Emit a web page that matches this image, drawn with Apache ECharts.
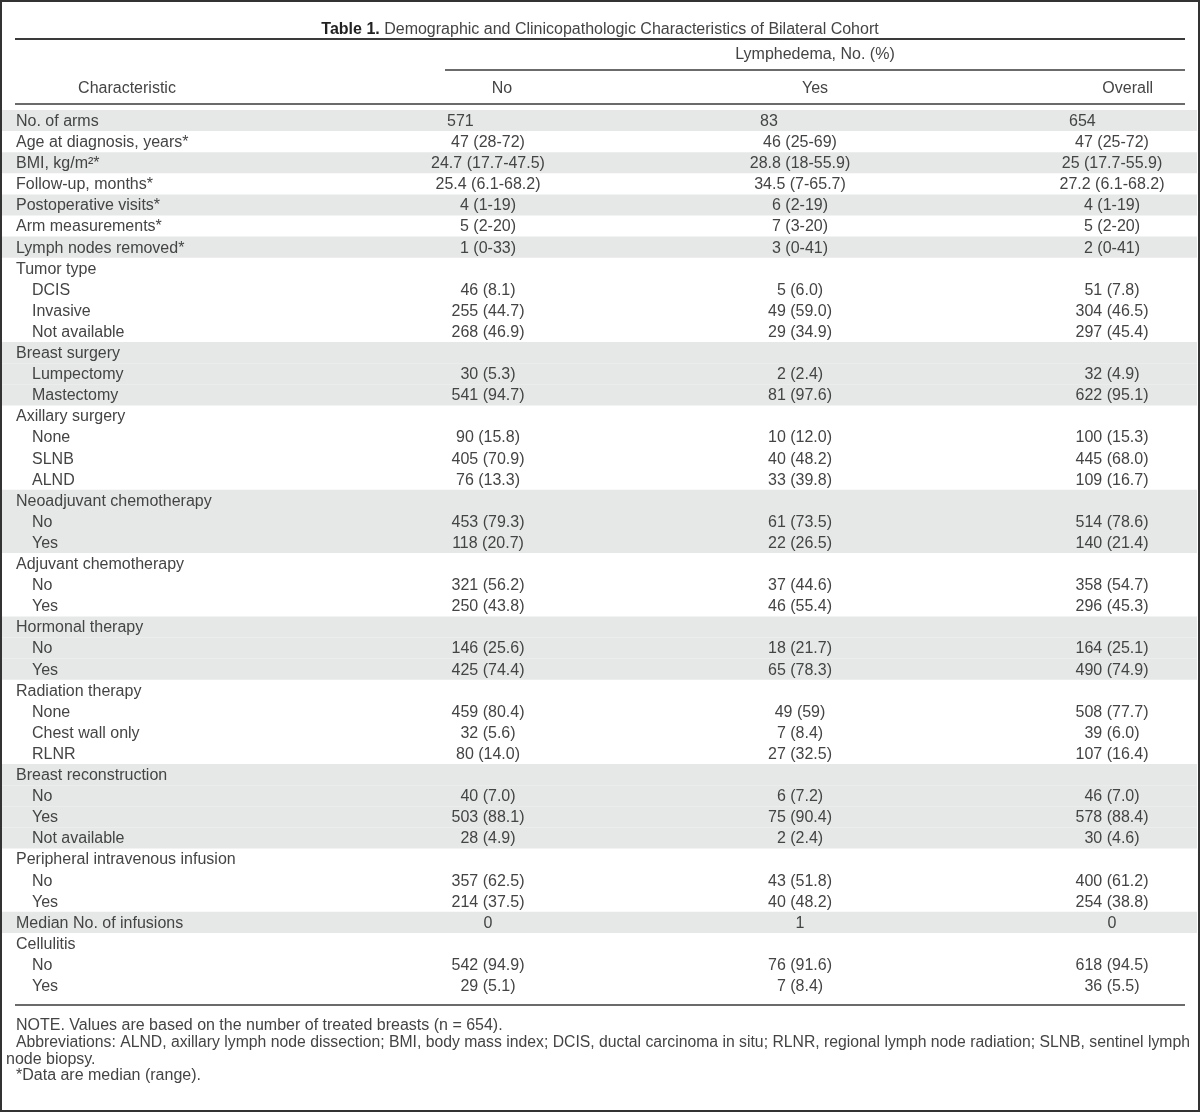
<!DOCTYPE html>
<html><head><meta charset="utf-8">
<script src="https://cdn.jsdelivr.net/npm/echarts@6/dist/echarts.min.js"></script>
<style>html,body{margin:0;padding:0;background:#fff}#c{width:1200px;height:1112px}</style>
</head><body><div id="c"></div>
<script>
// ---------------- DATA ----------------
const titleBold = 'Table 1.';
const titleText = 'Demographic and Clinicopathologic Characteristics of Bilateral Cohort';
const spanHeader = 'Lymphedema, No. (%)';
const columnHeaders = ['Characteristic', 'No', 'Yes', 'Overall'];

const characteristics = [
  'No. of arms', 'Age at diagnosis, years*', 'BMI, kg/m\u00B2*', 'Follow-up, months*',
  'Postoperative visits*', 'Arm measurements*', 'Lymph nodes removed*',
  'Tumor type', 'DCIS', 'Invasive', 'Not available',
  'Breast surgery', 'Lumpectomy', 'Mastectomy',
  'Axillary surgery', 'None', 'SLNB', 'ALND',
  'Neoadjuvant chemotherapy', 'No', 'Yes',
  'Adjuvant chemotherapy', 'No', 'Yes',
  'Hormonal therapy', 'No', 'Yes',
  'Radiation therapy', 'None', 'Chest wall only', 'RLNR',
  'Breast reconstruction', 'No', 'Yes', 'Not available',
  'Peripheral intravenous infusion', 'No', 'Yes',
  'Median No. of infusions',
  'Cellulitis', 'No', 'Yes'
];
// hierarchy level of each row (0 = characteristic, 1 = sub-category)
const levels = [
  0, 0, 0, 0, 0, 0, 0,
  0, 1, 1, 1,
  0, 1, 1,
  0, 1, 1, 1,
  0, 1, 1,
  0, 1, 1,
  0, 1, 1,
  0, 1, 1, 1,
  0, 1, 1, 1,
  0, 1, 1,
  0,
  0, 1, 1
];
const noValues = [
  '571', '47 (28-72)', '24.7 (17.7-47.5)', '25.4 (6.1-68.2)', '4 (1-19)', '5 (2-20)', '1 (0-33)',
  '', '46 (8.1)', '255 (44.7)', '268 (46.9)',
  '', '30 (5.3)', '541 (94.7)',
  '', '90 (15.8)', '405 (70.9)', '76 (13.3)',
  '', '453 (79.3)', '118 (20.7)',
  '', '321 (56.2)', '250 (43.8)',
  '', '146 (25.6)', '425 (74.4)',
  '', '459 (80.4)', '32 (5.6)', '80 (14.0)',
  '', '40 (7.0)', '503 (88.1)', '28 (4.9)',
  '', '357 (62.5)', '214 (37.5)',
  '0',
  '', '542 (94.9)', '29 (5.1)'
];
const yesValues = [
  '83', '46 (25-69)', '28.8 (18-55.9)', '34.5 (7-65.7)', '6 (2-19)', '7 (3-20)', '3 (0-41)',
  '', '5 (6.0)', '49 (59.0)', '29 (34.9)',
  '', '2 (2.4)', '81 (97.6)',
  '', '10 (12.0)', '40 (48.2)', '33 (39.8)',
  '', '61 (73.5)', '22 (26.5)',
  '', '37 (44.6)', '46 (55.4)',
  '', '18 (21.7)', '65 (78.3)',
  '', '49 (59)', '7 (8.4)', '27 (32.5)',
  '', '6 (7.2)', '75 (90.4)', '2 (2.4)',
  '', '43 (51.8)', '40 (48.2)',
  '1',
  '', '76 (91.6)', '7 (8.4)'
];
const overallValues = [
  '654', '47 (25-72)', '25 (17.7-55.9)', '27.2 (6.1-68.2)', '4 (1-19)', '5 (2-20)', '2 (0-41)',
  '', '51 (7.8)', '304 (46.5)', '297 (45.4)',
  '', '32 (4.9)', '622 (95.1)',
  '', '100 (15.3)', '445 (68.0)', '109 (16.7)',
  '', '514 (78.6)', '140 (21.4)',
  '', '358 (54.7)', '296 (45.3)',
  '', '164 (25.1)', '490 (74.9)',
  '', '508 (77.7)', '39 (6.0)', '107 (16.4)',
  '', '46 (7.0)', '578 (88.4)', '30 (4.6)',
  '', '400 (61.2)', '254 (38.8)',
  '0',
  '', '618 (94.5)', '36 (5.5)'
];
const notes = [
  'NOTE. Values are based on the number of treated breasts (n = 654).',
  'Abbreviations: ALND, axillary lymph node dissection; BMI, body mass index; DCIS, ductal carcinoma in situ; RLNR, regional lymph node radiation; SLNB, sentinel lymph',
  'node biopsy.',
  '*Data are median (range).'
];

// ---------------- LAYOUT / STYLE ----------------
const FONT = '"Liberation Sans", Arial, Helvetica, sans-serif';
const TXT = '#444444';
const RULE = '#3a3a3a';
const SHADE = '#e6e7e7';
const W = 1200, H = 1112;
const ROW_TOP = 110, ROW_H = 21.1;
const FS = 16;
const nRows = characteristics.length;

// alternate shading by characteristic group
let gi = -1;
const groupOf = levels.map(l => { if (l === 0) gi++; return gi; });
const shadedRows = [];
groupOf.forEach((g, i) => { if (g % 2 === 0) shadedRows.push(i); });

const valueCols = [noValues, yesValues, overallValues];
const cells = [];
characteristics.forEach((t, i) => cells.push({ col: 0, row: i, text: t }));
valueCols.forEach((arr, c) => arr.forEach((t, i) => { if (t !== '') cells.push({ col: c + 1, row: i, text: t }); }));

const colCenter = [0, 488, 800, 1112];
const firstRowLeft = [0, 447, 760, 1069];
const indent = [16, 32];

// notes: 16px; the long justified line is squeezed to the table width
const NOTE_FS = 16;
const cv = document.createElement('canvas').getContext('2d');
cv.font = NOTE_FS + 'px ' + FONT;
const noteWidths = notes.map(t => cv.measureText(t).width);

const chart = echarts.init(document.getElementById('c'), null, { renderer: 'canvas', width: W, height: H });

const graphics = [
  { type: 'rect', shape: { x: 1, y: 1, width: W - 2, height: H - 2 }, style: { fill: null, stroke: '#333', lineWidth: 2 }, z: 100 },
  { type: 'text', x: 600, y: 30, style: {
      text: '{b|' + titleBold + '} ' + titleText, align: 'center', verticalAlign: 'middle',
      fontFamily: FONT, fontSize: 16, fill: TXT,
      rich: { b: { fontFamily: FONT, fontSize: 16, fontWeight: 'bold', fill: '#222' } } } },
  { type: 'line', shape: { x1: 15, y1: 39, x2: 1185, y2: 39 }, style: { stroke: RULE, lineWidth: 2 } },
  { type: 'text', x: 815, y: 55, style: { text: spanHeader, align: 'center', verticalAlign: 'middle', fontFamily: FONT, fontSize: FS, fill: TXT } },
  { type: 'line', shape: { x1: 445, y1: 70, x2: 1185, y2: 70 }, style: { stroke: RULE, lineWidth: 1.5 } },
  { type: 'text', x: 127, y: 89, style: { text: columnHeaders[0], align: 'center', verticalAlign: 'middle', fontFamily: FONT, fontSize: FS, fill: TXT } },
  { type: 'text', x: 502, y: 89, style: { text: columnHeaders[1], align: 'center', verticalAlign: 'middle', fontFamily: FONT, fontSize: FS, fill: TXT } },
  { type: 'text', x: 815, y: 89, style: { text: columnHeaders[2], align: 'center', verticalAlign: 'middle', fontFamily: FONT, fontSize: FS, fill: TXT } },
  { type: 'text', x: 1153, y: 89, style: { text: columnHeaders[3], align: 'right', verticalAlign: 'middle', fontFamily: FONT, fontSize: FS, fill: TXT } },
  { type: 'line', shape: { x1: 15, y1: 104, x2: 1185, y2: 104 }, style: { stroke: RULE, lineWidth: 1.5 } },
  { type: 'line', shape: { x1: 15, y1: 1005, x2: 1185, y2: 1005 }, style: { stroke: RULE, lineWidth: 1.5 } }
];
const noteX = [16, 16, 6, 16];
const noteY = [1026, 1043, 1059.5, 1076];
notes.forEach((t, i) => {
  const sx = Math.min(1, (1190 - noteX[i]) / noteWidths[i]);
  graphics.push({ type: 'text', x: noteX[i], y: noteY[i], scaleX: sx,
    style: { text: t, x: 0, y: 0, align: 'left', verticalAlign: 'middle', fontFamily: FONT, fontSize: NOTE_FS, fill: TXT } });
});

chart.setOption({
  animation: false,
  backgroundColor: '#fff',
  grid: { left: 0, right: 0, top: ROW_TOP, height: ROW_H * nRows, containLabel: false },
  xAxis: { type: 'value', min: 0, max: W, show: false },
  yAxis: { type: 'value', min: -0.5, max: nRows - 0.5, inverse: true, show: false },
  series: [
    {
      type: 'custom', silent: true, z: 1, clip: false,
      data: shadedRows.map(r => [0, r]),
      renderItem: (p, api) => {
        const r = api.value(1);
        const a = api.coord([2, r - 0.5]);
        const b = api.coord([W - 3, r + 0.5]);
        return { type: 'rect', shape: { x: a[0], y: a[1], width: b[0] - a[0], height: b[1] - a[1] }, style: { fill: SHADE } };
      }
    },
    {
      type: 'custom', silent: true, z: 2, clip: false,
      data: cells.map(c => [c.col, c.row]),
      renderItem: (p, api) => {
        const c = cells[p.dataIndex];
        let x, align;
        if (c.col === 0) { x = indent[levels[c.row]]; align = 'left'; }
        else if (c.row === 0) { x = firstRowLeft[c.col]; align = 'left'; }
        else { x = colCenter[c.col]; align = 'center'; }
        const pt = api.coord([x, c.row]);
        return { type: 'text', style: { text: c.text, x: pt[0], y: pt[1] + 1, align: align, verticalAlign: 'middle',
          fontFamily: FONT, fontSize: FS, fill: TXT } };
      }
    }
  ],
  graphic: graphics
});
</script></body></html>
